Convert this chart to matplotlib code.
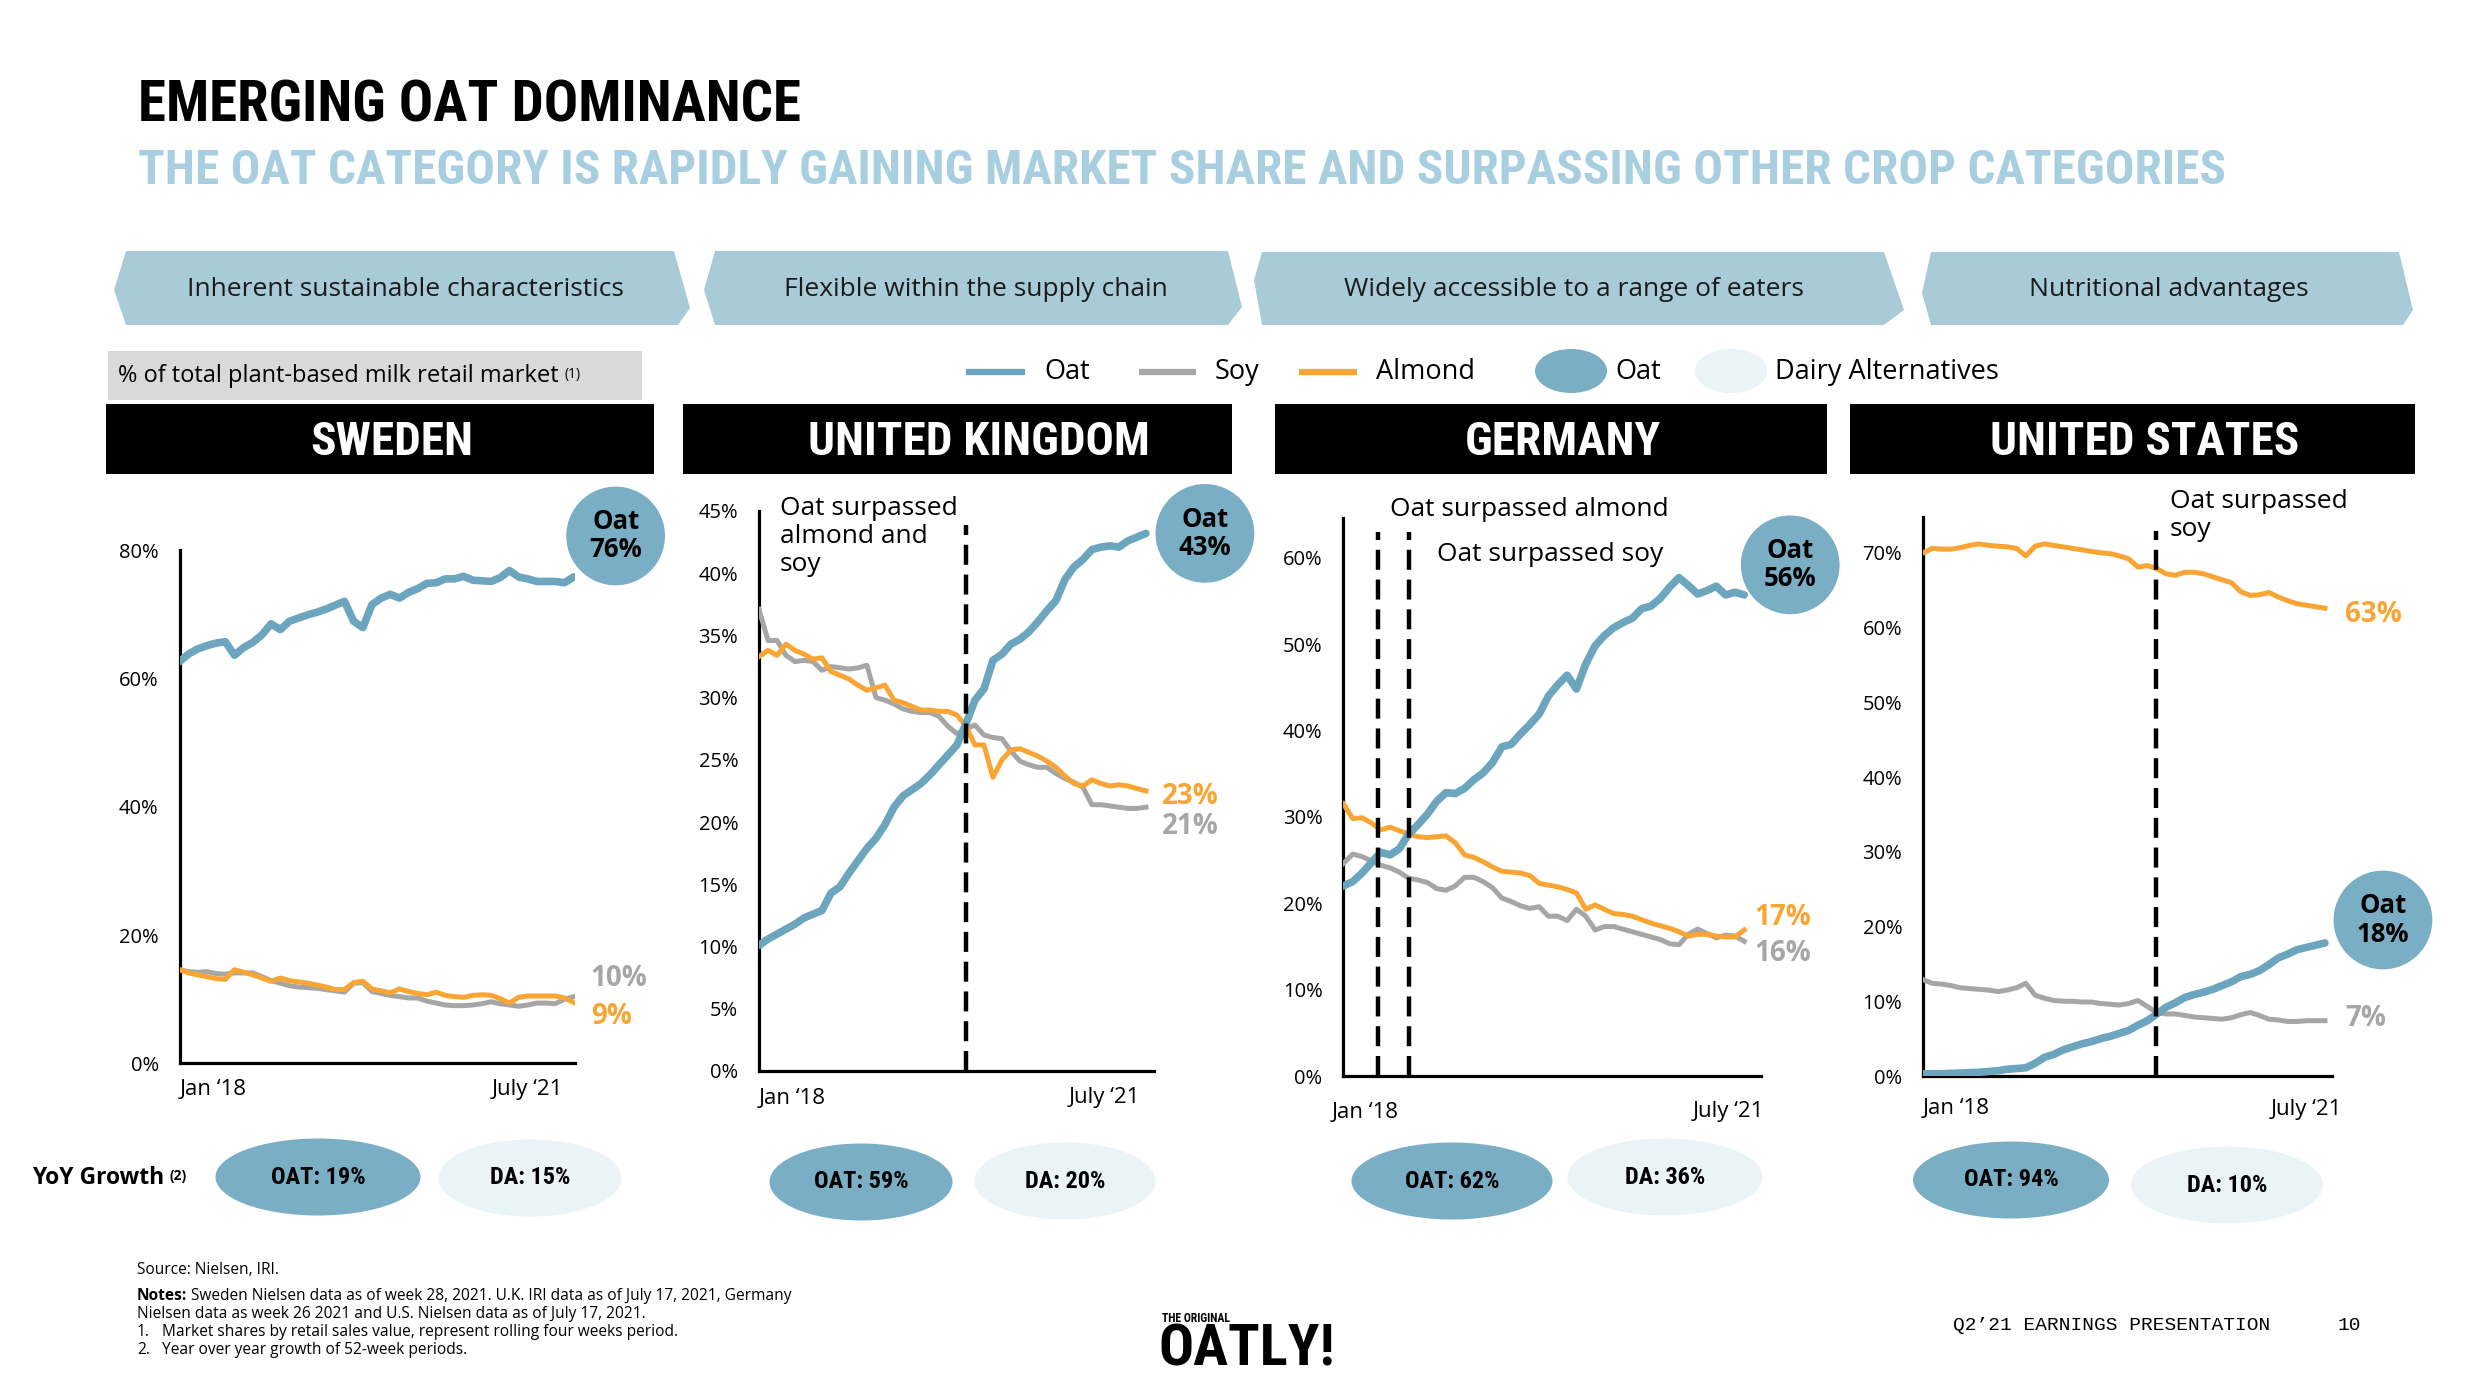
import os
import matplotlib
matplotlib.use('Agg')
import matplotlib.pyplot as plt
from matplotlib import font_manager as fm
from matplotlib.patches import Polygon, Ellipse, Rectangle

# ---- chart data: % of total plant-based milk retail market, Jan '18 -> July '21 ----
countries = ['SWEDEN', 'UNITED KINGDOM', 'GERMANY', 'UNITED STATES']

sweden_oat = [62.6, 63.8, 64.6, 65.1, 65.5, 65.7, 63.6, 64.8, 65.6, 66.8, 68.5, 67.6, 68.9, 69.4, 69.9,
              70.3, 70.8, 71.4, 72.0, 68.9, 67.9, 71.5, 72.5, 73.1, 72.5, 73.4, 74.0, 74.8, 74.9, 75.5,
              75.5, 75.9, 75.3, 75.2, 75.1, 75.7, 76.8, 75.8, 75.5, 75.1, 75.1, 75.1, 74.9, 75.8]
sweden_soy = [14.6, 14.3, 14.2, 14.3, 14.0, 13.9, 14.1, 14.1, 14.1, 13.5, 12.9, 12.5, 12.1, 11.9, 11.8,
              11.7, 11.5, 11.3, 11.1, 12.5, 12.6, 11.2, 10.9, 10.6, 10.4, 10.2, 10.2, 9.7, 9.4, 9.1,
              9.0, 9.0, 9.1, 9.3, 9.6, 9.3, 9.1, 8.9, 9.1, 9.4, 9.4, 9.3, 10.0, 10.4]
sweden_almond = [14.6, 14.1, 13.8, 13.5, 13.2, 13.1, 14.6, 14.2, 13.8, 13.3, 12.8, 13.3, 12.9, 12.7, 12.5,
                 12.2, 11.9, 11.5, 11.5, 12.6, 12.8, 11.6, 11.3, 11.0, 11.6, 11.2, 10.9, 10.7, 11.1, 10.6,
                 10.4, 10.3, 10.6, 10.7, 10.6, 10.1, 9.4, 10.3, 10.5, 10.5, 10.5, 10.5, 10.2, 9.5]

uk_oat = [10.1, 10.6, 11.0, 11.4, 11.8, 12.3, 12.6, 12.9, 14.3, 14.8, 15.9, 16.9, 17.9, 18.7, 19.8,
          21.2, 22.1, 22.6, 23.1, 23.8, 24.6, 25.4, 26.2, 27.9, 29.8, 30.7, 33.0, 33.5, 34.3, 34.7,
          35.3, 36.1, 37.0, 37.8, 39.5, 40.5, 41.1, 41.9, 42.1, 42.2, 42.1, 42.6, 42.9, 43.2]
uk_soy = [37.1, 34.6, 34.6, 33.4, 32.9, 33.0, 32.9, 32.2, 32.5, 32.4, 32.3, 32.4, 32.6, 30.0, 29.8,
          29.5, 29.1, 28.9, 28.8, 28.8, 28.5, 27.7, 27.1, 27.5, 27.8, 27.0, 26.8, 26.7, 25.7, 24.9,
          24.6, 24.4, 24.4, 23.9, 23.5, 23.2, 22.8, 21.4, 21.4, 21.3, 21.2, 21.1, 21.1, 21.2]
uk_almond = [33.3, 33.8, 33.4, 34.3, 33.8, 33.5, 33.1, 33.2, 32.1, 31.8, 31.5, 31.0, 30.6, 30.8, 31.0,
             29.8, 29.6, 29.3, 29.0, 29.0, 28.9, 28.9, 28.6, 27.7, 26.2, 26.2, 23.6, 25.0, 25.8, 25.9,
             25.6, 25.3, 24.9, 24.4, 23.7, 23.1, 22.9, 23.4, 23.1, 22.9, 23.0, 22.9, 22.7, 22.5]

de_oat = [22.0, 22.5, 23.5, 24.7, 25.9, 25.6, 26.3, 28.0, 29.1, 30.3, 31.8, 32.8, 32.7, 33.3, 34.3,
          35.1, 36.3, 38.1, 38.4, 39.6, 40.7, 41.9, 44.0, 45.3, 46.4, 44.8, 47.7, 49.8, 51.0, 51.9,
          52.5, 53.0, 54.1, 54.4, 55.3, 56.6, 57.7, 56.8, 55.8, 56.2, 56.7, 55.7, 56.0, 55.7]
de_soy = [24.6, 25.7, 25.4, 24.9, 24.4, 24.1, 23.6, 22.9, 22.7, 22.4, 21.7, 21.5, 22.0, 23.0, 23.0,
          22.5, 21.8, 20.6, 20.2, 19.7, 19.4, 19.6, 18.5, 18.5, 18.0, 19.3, 18.5, 16.9, 17.3, 17.3,
          17.0, 16.7, 16.4, 16.1, 15.8, 15.3, 15.2, 16.4, 17.0, 16.5, 16.0, 16.3, 16.2, 15.6]
de_almond = [31.5, 29.8, 29.9, 29.3, 28.5, 28.8, 28.4, 28.0, 27.7, 27.6, 27.7, 27.8, 27.0, 25.6, 25.3,
             24.8, 24.2, 23.7, 23.6, 23.5, 23.2, 22.3, 22.1, 21.9, 21.6, 21.2, 19.3, 19.8, 19.3, 18.8,
             18.7, 18.5, 18.1, 17.7, 17.4, 17.1, 16.7, 16.2, 16.4, 16.4, 16.2, 16.1, 16.1, 16.9]

us_oat = [0.3, 0.3, 0.3, 0.35, 0.4, 0.45, 0.5, 0.6, 0.7, 0.9, 1.0, 1.1, 1.7, 2.5, 2.9,
          3.5, 3.9, 4.3, 4.6, 5.0, 5.3, 5.7, 6.1, 6.8, 7.4, 8.3, 9.2, 9.8, 10.5, 10.9,
          11.2, 11.6, 12.1, 12.6, 13.3, 13.6, 14.1, 14.9, 15.8, 16.3, 16.9, 17.2, 17.5, 17.8]
us_soy = [12.9, 12.4, 12.3, 12.1, 11.8, 11.7, 11.6, 11.5, 11.3, 11.5, 11.8, 12.4, 10.8, 10.4, 10.1,
          10.0, 10.0, 9.9, 9.9, 9.7, 9.6, 9.5, 9.7, 10.1, 9.3, 8.5, 8.3, 8.3, 8.1, 7.9,
          7.8, 7.7, 7.6, 7.8, 8.2, 8.5, 8.1, 7.6, 7.5, 7.3, 7.3, 7.4, 7.4, 7.4]
us_almond = [70.0, 70.6, 70.5, 70.5, 70.7, 71.0, 71.2, 71.0, 70.9, 70.8, 70.6, 69.6, 70.9, 71.2, 71.0,
             70.8, 70.6, 70.4, 70.2, 70.0, 69.9, 69.6, 69.2, 68.1, 68.3, 67.9, 67.2, 67.0, 67.4, 67.4,
             67.2, 66.8, 66.4, 66.0, 64.8, 64.3, 64.4, 64.7, 64.1, 63.6, 63.2, 63.0, 62.8, 62.6]

oat_series = [sweden_oat, uk_oat, de_oat, us_oat]
soy_series = [sweden_soy, uk_soy, de_soy, us_soy]
almond_series = [sweden_almond, uk_almond, de_almond, us_almond]

oat_end = [76, 43, 56, 18]
soy_end = [10, 21, 16, 7]
almond_end = [9, 23, 17, 63]

# reading index where oat overtook the others
crossings = [[], [23.0], [3.7, 7.0], [24.9]]
crossing_notes = [[], ['Oat surpassed\nalmond and\nsoy'], ['Oat surpassed almond', 'Oat surpassed soy'],
                  ['Oat surpassed\nsoy']]

y_max = [80, 45, 64.6, 74.8]
y_step = [20, 5, 10, 10]

oat_growth = ['19%', '59%', '62%', '94%']
da_growth = ['15%', '20%', '36%', '10%']

pillars = ['Inherent sustainable characteristics', 'Flexible within the supply chain',
           'Widely accessible to a range of eaters', 'Nutritional advantages']

# ---- colours / fonts ----
OAT = '#6ca5be'
OAT_FILL = '#79aec5'
SOY = '#a6a6a6'
ALMOND = '#f8a533'
DA_FILL = '#eaf3f6'
BANNER = '#a9cbd8'
SUBTITLE = '#a8cfdf'

plt.rcParams['font.family'] = ['Open Sans', 'DejaVu Sans']


def pick_font(names):
    paths = fm.findSystemFonts()
    for name in names:
        for p in paths:
            if os.path.basename(p) == name:
                return fm.FontProperties(fname=p)
    return fm.FontProperties(family='DejaVu Sans', weight='bold')


DISPLAY = pick_font(['LiberationSansNarrow-Bold.ttf', 'RobotoCondensed-Bold.ttf',
                     'DejaVuSansCondensed-Bold.ttf'])
MONO = ['Liberation Mono', 'DejaVu Sans Mono']

W, H = 2492, 1400
fig = plt.figure(figsize=(W / 100, H / 100), dpi=100)
fig.patch.set_facecolor('white')

# overlay in pixel coordinates for the slide furniture
ov = fig.add_axes([0, 0, 1, 1], zorder=5)
ov.set_xlim(0, W)
ov.set_ylim(H, 0)
ov.axis('off')
ov.patch.set_alpha(0)

ov.text(138, 106, 'EMERGING OAT DOMINANCE', fontproperties=DISPLAY, fontsize=41, va='center', color='black')
ov.text(138, 171, 'THE OAT CATEGORY IS RAPIDLY GAINING MARKET SHARE AND SURPASSING OTHER CROP CATEGORIES',
        fontproperties=DISPLAY, fontsize=35.5, va='center', color=SUBTITLE)

banner_shapes = [
    [(126, 251), (674, 251), (690, 308), (678, 325), (126, 325), (114, 290)],
    [(715, 251), (1228, 251), (1242, 307), (1228, 325), (715, 325), (704, 290)],
    [(1262, 252), (1884, 252), (1904, 310), (1884, 325), (1262, 325), (1254, 280)],
    [(1931, 252), (2399, 252), (2413, 310), (2403, 325), (1931, 325), (1922, 293)],
]
banner_text_x = [405, 976, 1574, 2169]
for shape, label, tx in zip(banner_shapes, pillars, banner_text_x):
    ov.add_patch(Polygon(shape, closed=True, fc=BANNER, ec='none'))
    ov.text(tx, 290, label, fontsize=19, ha='center', va='center', color='#1a1a1a')

# subtitle box for the unit
ov.add_patch(Rectangle((108, 351), 534, 49, fc='#d9d9d9', ec='none'))
unit = ov.text(118, 376, '% of total plant-based milk retail market', fontsize=17, va='center')
ov.annotate('(1)', xy=(1, 1), xycoords=unit, xytext=(4, -2), textcoords='offset points',
            fontsize=10, va='top')

# legend
for (x0, x1), lab, col in zip([(966, 1025), (1139, 1196), (1299, 1357)],
                              ['Oat', 'Soy', 'Almond'], [OAT, SOY, ALMOND]):
    ov.plot([x0, x1], [372, 372], color=col, lw=4.5, solid_capstyle='butt')
    ov.text(x1 + 19, 372, lab, fontsize=19.5, va='center')
for cx, lab, col in [(1571, 'Oat', OAT_FILL), (1731, 'Dairy Alternatives', DA_FILL)]:
    ov.add_patch(Ellipse((cx, 371), 72, 44, fc=col, ec='none'))
    ov.text(cx + 44, 372, lab, fontsize=19.5, va='center')

# country headers
header_boxes = [(106, 654), (683, 1232), (1275, 1827), (1850, 2415)]
header_text_x = [392, 979, 1563, 2145]
for (x0, x1), name, tx in zip(header_boxes, countries, header_text_x):
    ov.add_patch(Rectangle((x0, 404), x1 - x0, 70, fc='black', ec='none'))
    ov.text(tx, 442, name, fontproperties=DISPLAY, fontsize=34, color='white', ha='center', va='center')

# YoY growth bubbles
yoy = ov.text(32, 1178, 'YoY Growth', fontsize=16.5, fontweight='bold', va='center')
ov.annotate('(2)', xy=(1, 1), xycoords=yoy, xytext=(4, -2), textcoords='offset points',
            fontsize=10, fontweight='bold', va='top')
oat_bubbles = [(318, 1177, 205), (861, 1182, 183), (1452, 1181, 201), (2011, 1180, 196)]
da_bubbles = [(530, 1178, 183), (1065, 1181, 181), (1665, 1177, 195), (2227, 1185, 192)]
for (ox, oy, ow), (dx, dy, dw), og, dg in zip(oat_bubbles, da_bubbles, oat_growth, da_growth):
    ov.add_patch(Ellipse((ox, oy), ow, 77, fc=OAT_FILL, ec='none'))
    ov.add_patch(Ellipse((dx, dy), dw, 77, fc=DA_FILL, ec='none'))
    ov.text(ox, oy, 'OAT: ' + og, fontproperties=DISPLAY, fontsize=17.5, ha='center', va='center')
    ov.text(dx, dy, 'DA: ' + dg, fontproperties=DISPLAY, fontsize=17.5, ha='center', va='center')

# footer
FOOT = 11.2
ov.text(137, 1270, 'Source: Nielsen, IRI.', fontsize=FOOT, va='center')
notes = ov.text(137, 1296, 'Notes:', fontsize=FOOT, fontweight='bold', va='center')
ov.annotate(' Sweden Nielsen data as of week 28, 2021. U.K. IRI data as of July 17, 2021, Germany',
            xy=(1, 0.5), xycoords=notes, fontsize=FOOT, va='center')
ov.text(137, 1314, 'Nielsen data as week 26 2021 and U.S. Nielsen data as of July 17, 2021.',
        fontsize=FOOT, va='center')
for y, num, line in [(1332, '1.', 'Market shares by retail sales value, represent rolling four weeks period.'),
                     (1350, '2.', 'Year over year growth of 52-week periods.')]:
    ov.text(137, y, num, fontsize=FOOT, va='center')
    ov.text(162, y, line, fontsize=FOOT, va='center')

ov.text(1162, 1318, 'THE ORIGINAL', fontproperties=DISPLAY, fontsize=8.5, va='center')
ov.text(1158, 1350, 'OATLY!', fontproperties=DISPLAY, fontsize=42, va='center')
ov.text(1953, 1325, 'Q2\u201921 EARNINGS PRESENTATION', family=MONO, fontsize=14, va='center')
ov.text(2338, 1325, '10', family=MONO, fontsize=14, va='center')

# ---- the four line charts ----
# pixel boxes: y-axis x, x-axis end, top (y max), bottom (0%)
boxes = [(179.5, 575, 550, 1063.4), (759, 1154, 511, 1071),
         (1343.4, 1761, 518, 1076), (1923, 2331.5, 517, 1076)]
x_right = [43.15, 43.9, 44.8, 43.7]
jan_x = [0, 0, -1.2, 0]
july_x = [41.9, 42.4, 45.1, 44.8]
xlab_drop = [26, 27, 36, 33]
bubble_off = [(42, 41), (59, 0), (46, 30), (58, 23)]
soy_off = [(17, 18), (16, -19), (10, -12), (20, 2)]
almond_off = [(17, -14), (16, -5), (10, 13), (20, -6)]
note_pos = [[], [(2.3, 46.2)], [(5.0, 67.0), (10.0, 61.8)], [(26.4, 78.5)]]

for k in range(4):
    left, right, top, bottom = boxes[k]
    ax = fig.add_axes([left / W, 1 - bottom / H, (right - left) / W, (bottom - top) / H])
    ax.patch.set_alpha(0)
    xs = list(range(len(oat_series[k])))
    ax.plot(xs, soy_series[k], color=SOY, lw=3.6, solid_joinstyle='round', zorder=3)
    ax.plot(xs, almond_series[k], color=ALMOND, lw=3.6, solid_joinstyle='round', zorder=3)
    ax.plot(xs, oat_series[k], color=OAT, lw=5.5, solid_joinstyle='round', solid_capstyle='round', zorder=4)

    for cx in crossings[k]:
        ax.vlines(cx, 0, y_max[k] * 0.975, colors='black', linestyles=(0, (4.5, 2.2)), lw=3.2, zorder=5)
    for (nx, ny), note in zip(note_pos[k], crossing_notes[k]):
        ax.text(nx, ny, note, fontsize=19, va='top', ha='left', clip_on=False, linespacing=1.15)

    ax.set_xlim(0, x_right[k])
    ax.set_ylim(0, y_max[k])
    ticks = list(range(0, int(y_max[k]) + 1, y_step[k]))
    ax.set_yticks(ticks)
    ax.set_yticklabels(['{}%'.format(t) for t in ticks])
    ax.set_xticks([])
    ax.tick_params(axis='y', length=0, pad=15, labelsize=14.5)
    for s in ['top', 'right']:
        ax.spines[s].set_visible(False)
    for s in ['left', 'bottom']:
        ax.spines[s].set_linewidth(2.3)
        ax.spines[s].set_color('black')

    ax.annotate('Jan \u201818', xy=(jan_x[k], 0), xycoords=('data', 'axes fraction'),
                xytext=(0, -xlab_drop[k]), textcoords='offset pixels', fontsize=16,
                ha='left', va='center', annotation_clip=False)
    ax.annotate('July \u201821', xy=(july_x[k], 0), xycoords=('data', 'axes fraction'),
                xytext=(0, -xlab_drop[k]), textcoords='offset pixels', fontsize=16,
                ha='right', va='center', annotation_clip=False)

    last = xs[-1]
    ax.annotate('Oat\n{}%'.format(oat_end[k]), xy=(last, oat_series[k][-1]), xytext=bubble_off[k],
                textcoords='offset pixels', ha='center', va='center', fontsize=18.5, fontweight='bold',
                linespacing=1.05, annotation_clip=False, zorder=6,
                bbox=dict(boxstyle='circle,pad=0.85', fc=OAT_FILL, ec='none'))
    ax.annotate('{}%'.format(soy_end[k]), xy=(last, soy_series[k][-1]), xytext=soy_off[k],
                textcoords='offset pixels', ha='left', va='center', fontsize=20, fontweight='bold',
                color=SOY, annotation_clip=False)
    ax.annotate('{}%'.format(almond_end[k]), xy=(last, almond_series[k][-1]), xytext=almond_off[k],
                textcoords='offset pixels', ha='left', va='center', fontsize=20, fontweight='bold',
                color=ALMOND, annotation_clip=False)

fig.savefig('out.png', dpi=100, facecolor='white')
